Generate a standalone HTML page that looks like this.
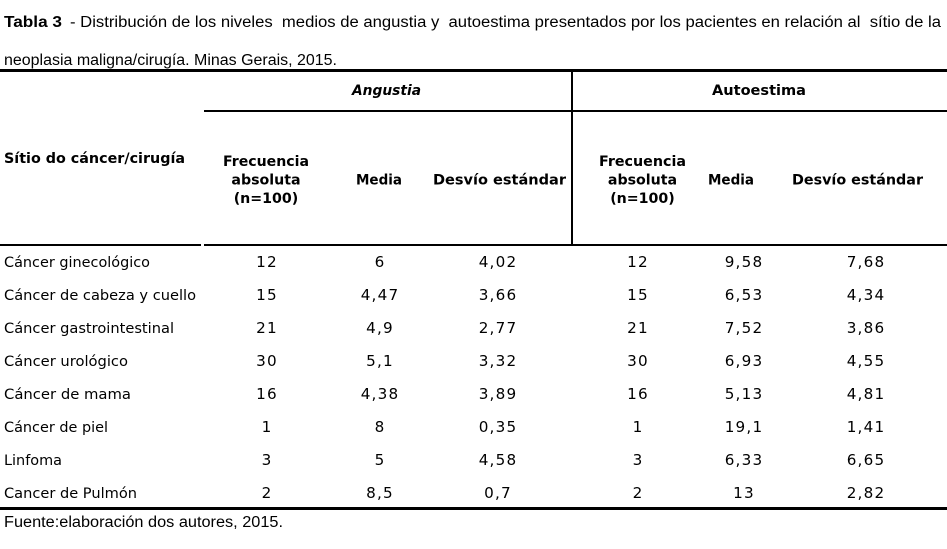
<!DOCTYPE html>
<html>
<head>
<meta charset="utf-8">
<style>
  html, body { margin:0; padding:0; background:#fff; }
  svg { display:block; }
  .t { font-family:"Liberation Sans", Arial, sans-serif; font-size:15.5px; fill:#000; }
  .v { font-family:"DejaVu Sans", Verdana, sans-serif; font-size:14.6px; fill:#000; }
  .vb { font-family:"DejaVu Sans", Verdana, sans-serif; font-size:14.2px; font-weight:bold; fill:#000; }
  .n { font-family:"DejaVu Sans", Verdana, sans-serif; font-size:15.2px; fill:#000; letter-spacing:1.2px; }
</style>
</head>
<body>
<svg width="947" height="549" viewBox="0 0 947 549" xmlns="http://www.w3.org/2000/svg">
  <rect x="0" y="0" width="947" height="549" fill="#fff"/>

  <!-- Title -->
  <text class="t" x="4" y="27" font-weight="bold" textLength="58" lengthAdjust="spacingAndGlyphs">Tabla 3</text>
  <text class="t" x="70" y="27" textLength="871" lengthAdjust="spacingAndGlyphs" xml:space="preserve">- Distribución de los niveles  medios de angustia y  autoestima presentados por los pacientes en relación al  sítio de la</text>
  <text class="t" x="4" y="65" textLength="333" lengthAdjust="spacingAndGlyphs">neoplasia maligna/cirugía. Minas Gerais, 2015.</text>

  <!-- Rules -->
  <rect x="0" y="69" width="947" height="3" fill="#000"/>
  <rect x="204" y="110" width="743" height="2" fill="#000"/>
  <rect x="571" y="69" width="2" height="177" fill="#000"/>
  <rect x="0" y="244" width="201" height="2" fill="#000"/>
  <rect x="204" y="244" width="743" height="2" fill="#000"/>
  <rect x="0" y="507" width="947" height="3" fill="#000"/>

  <!-- Group headers -->
  <text class="vb" x="352" y="95" font-style="italic" textLength="69" lengthAdjust="spacingAndGlyphs">Angustia</text>
  <text class="vb" x="712" y="95" textLength="94" lengthAdjust="spacingAndGlyphs">Autoestima</text>

  <!-- Column headers -->
  <text class="vb" x="4" y="163" textLength="181" lengthAdjust="spacingAndGlyphs">Sítio do cáncer/cirugía</text>

  <text class="vb" x="223" y="166" textLength="86" lengthAdjust="spacingAndGlyphs">Frecuencia</text>
  <text class="vb" x="266" y="184.5" text-anchor="middle">absoluta</text>
  <text class="vb" x="266" y="203" text-anchor="middle">(n=100)</text>
  <text class="vb" x="356" y="184.5" textLength="46" lengthAdjust="spacingAndGlyphs">Media</text>
  <text class="vb" x="433" y="184.5" textLength="133" lengthAdjust="spacingAndGlyphs">Desvío estándar</text>

  <text class="vb" x="599" y="166" textLength="87" lengthAdjust="spacingAndGlyphs">Frecuencia</text>
  <text class="vb" x="642.5" y="184.5" text-anchor="middle">absoluta</text>
  <text class="vb" x="642.5" y="203" text-anchor="middle">(n=100)</text>
  <text class="vb" x="708" y="184.5" textLength="46" lengthAdjust="spacingAndGlyphs">Media</text>
  <text class="vb" x="792" y="184.5" textLength="131" lengthAdjust="spacingAndGlyphs">Desvío estándar</text>

  <!-- Row labels -->
  <text class="v" x="4" y="267" textLength="146" lengthAdjust="spacingAndGlyphs">Cáncer ginecológico</text>
  <text class="v" x="4" y="300" textLength="192" lengthAdjust="spacingAndGlyphs">Cáncer de cabeza y cuello</text>
  <text class="v" x="4" y="333" textLength="170" lengthAdjust="spacingAndGlyphs">Cáncer gastrointestinal</text>
  <text class="v" x="4" y="366" textLength="124" lengthAdjust="spacingAndGlyphs">Cáncer urológico</text>
  <text class="v" x="4" y="399" textLength="127" lengthAdjust="spacingAndGlyphs">Cáncer de mama</text>
  <text class="v" x="4" y="432" textLength="104" lengthAdjust="spacingAndGlyphs">Cáncer de piel</text>
  <text class="v" x="4" y="465" textLength="58" lengthAdjust="spacingAndGlyphs">Linfoma</text>
  <text class="v" x="4" y="498" textLength="133" lengthAdjust="spacingAndGlyphs">Cancer de Pulmón</text>

  <!-- Data -->
  <g class="n" text-anchor="middle">
    <text x="267" y="267">12</text>
    <text x="380" y="267">6</text>
    <text x="498" y="267">4,02</text>
    <text x="638" y="267">12</text>
    <text x="744" y="267">9,58</text>
    <text x="866" y="267">7,68</text>

    <text x="267" y="300">15</text>
    <text x="380" y="300">4,47</text>
    <text x="498" y="300">3,66</text>
    <text x="638" y="300">15</text>
    <text x="744" y="300">6,53</text>
    <text x="866" y="300">4,34</text>

    <text x="267" y="333">21</text>
    <text x="380" y="333">4,9</text>
    <text x="498" y="333">2,77</text>
    <text x="638" y="333">21</text>
    <text x="744" y="333">7,52</text>
    <text x="866" y="333">3,86</text>

    <text x="267" y="366">30</text>
    <text x="380" y="366">5,1</text>
    <text x="498" y="366">3,32</text>
    <text x="638" y="366">30</text>
    <text x="744" y="366">6,93</text>
    <text x="866" y="366">4,55</text>

    <text x="267" y="399">16</text>
    <text x="380" y="399">4,38</text>
    <text x="498" y="399">3,89</text>
    <text x="638" y="399">16</text>
    <text x="744" y="399">5,13</text>
    <text x="866" y="399">4,81</text>

    <text x="267" y="432">1</text>
    <text x="380" y="432">8</text>
    <text x="498" y="432">0,35</text>
    <text x="638" y="432">1</text>
    <text x="744" y="432">19,1</text>
    <text x="866" y="432">1,41</text>

    <text x="267" y="465">3</text>
    <text x="380" y="465">5</text>
    <text x="498" y="465">4,58</text>
    <text x="638" y="465">3</text>
    <text x="744" y="465">6,33</text>
    <text x="866" y="465">6,65</text>

    <text x="267" y="498">2</text>
    <text x="380" y="498">8,5</text>
    <text x="498" y="498">0,7</text>
    <text x="638" y="498">2</text>
    <text x="744" y="498">13</text>
    <text x="866" y="498">2,82</text>
  </g>

  <!-- Footer -->
  <text class="t" x="4" y="527" textLength="279" lengthAdjust="spacingAndGlyphs">Fuente:elaboración dos autores, 2015.</text>
</svg>
</body>
</html>
